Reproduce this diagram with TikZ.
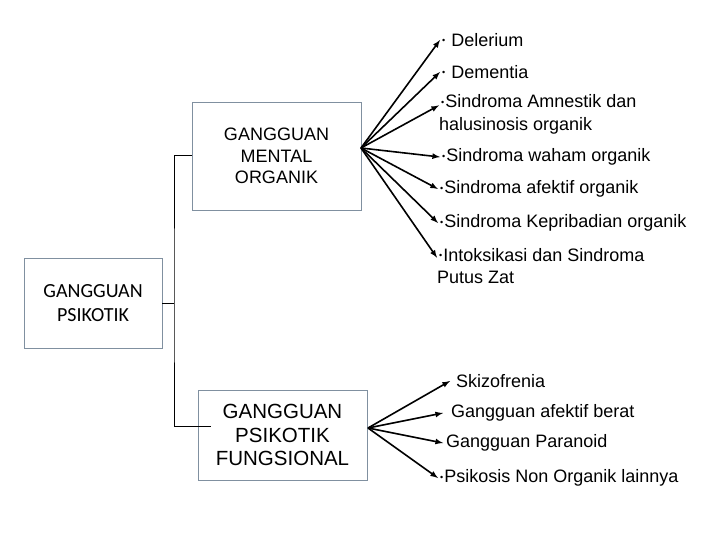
\documentclass[tikz,border=0pt]{standalone}
\usepackage{fontspec}
\setmainfont{Liberation Sans}
\newfontfamily\calibri{Carlito}
\usetikzlibrary{arrows,
  calc
}
\tikzset{>=latex}
\definecolor{boxline}{RGB}{128,144,160}
\newcommand{\bul}{\hspace{2pt}\raisebox{2.5pt}{\fontsize{9}{9}\selectfont\textbullet}\hspace{1pt}}
\tikzset{
  box/.style={draw=boxline,line width=0.8pt,inner sep=0pt,align=center},
  item/.style={inner sep=0pt,anchor=west,align=left,font=\fontsize{18}{22.5}\selectfont},
  link/.style={line width=1pt},
  fan/.style={->,line width=1.6pt}
}

\begin{document}
\begin{tikzpicture}[x=1pt,y=-1pt]
  \useasboundingbox (0,0) rectangle (720,540);
  \node[box,minimum width=138,minimum height=90,font=\calibri\fontsize{20}{24}\selectfont]
  (gp) at (93,303) {GANGGUAN\\PSIKOTIK};
  \node[box,minimum width=169,minimum height=108,font=\fontsize{18}{21.5}\selectfont]
  (gmo) at (276.5,156) {GANGGUAN\\MENTAL\\ORGANIK};
  \node[box,minimum width=169,minimum height=90,font=\fontsize{20.5}{23.5}\selectfont]
  (gpf) at (282.5,435) {GANGGUAN\\PSIKOTIK\\FUNGSIONAL};
  \coordinate (fork) at (174,300);
  \coordinate (gpf-in) at (211,426);
  \draw[link] (gp.east) -- (gp.east -| fork);
  \draw[link] (gmo.west) -| (fork) |- (gpf-in);
  % Organik
  \coordinate (gmo-out) at (361,148);
  \node[item] (dele) at (440,40) {\bul\ Delerium};
  \node[item] (deme) at (440,72) {\bul\ Dementia};
  \node[item] (amne) at (439,114.5) {\bul Sindroma Amnestik dan\\halusinosis organik};
  \node[item] (waham) at (440,157) {\bul Sindroma waham organik};
  \node[item] (afek) at (438,189) {\bul Sindroma afektif organik};
  \node[item] (kepr) at (438,223) {\bul Sindroma Kepribadian organik};
  \node[item] (intok) at (437,266) {\bul Intoksikasi dan Sindroma\\Putus Zat};
  \foreach \n in {dele,deme,waham,afek,kepr}
    \draw[fan] (gmo-out) -- (\n.west);
  \draw[fan] (gmo-out) -- ($(amne.north west)!0.27!(amne.south west)$);
  \draw[fan] (gmo-out) -- ($(intok.north west)!0.27!(intok.south west)$);
  % Fungsional
  \coordinate (gpf-out) at (368,428);
  \node[item] (skiz) at (450,381) {\hspace{6pt}Skizofrenia};
  \node[item] (gaf) at (443,413) {\hspace{8pt}Gangguan afektif berat};
  \node[item] (gpar) at (443,443) {\hspace{3pt}Gangguan Paranoid};
  \node[item] (psik) at (438,478) {\bul Psikosis Non Organik lainnya};
  \foreach \n in {skiz,gaf,gpar,psik}
    \draw[fan] (gpf-out) -- (\n.west);
\end{tikzpicture}
\end{document}
